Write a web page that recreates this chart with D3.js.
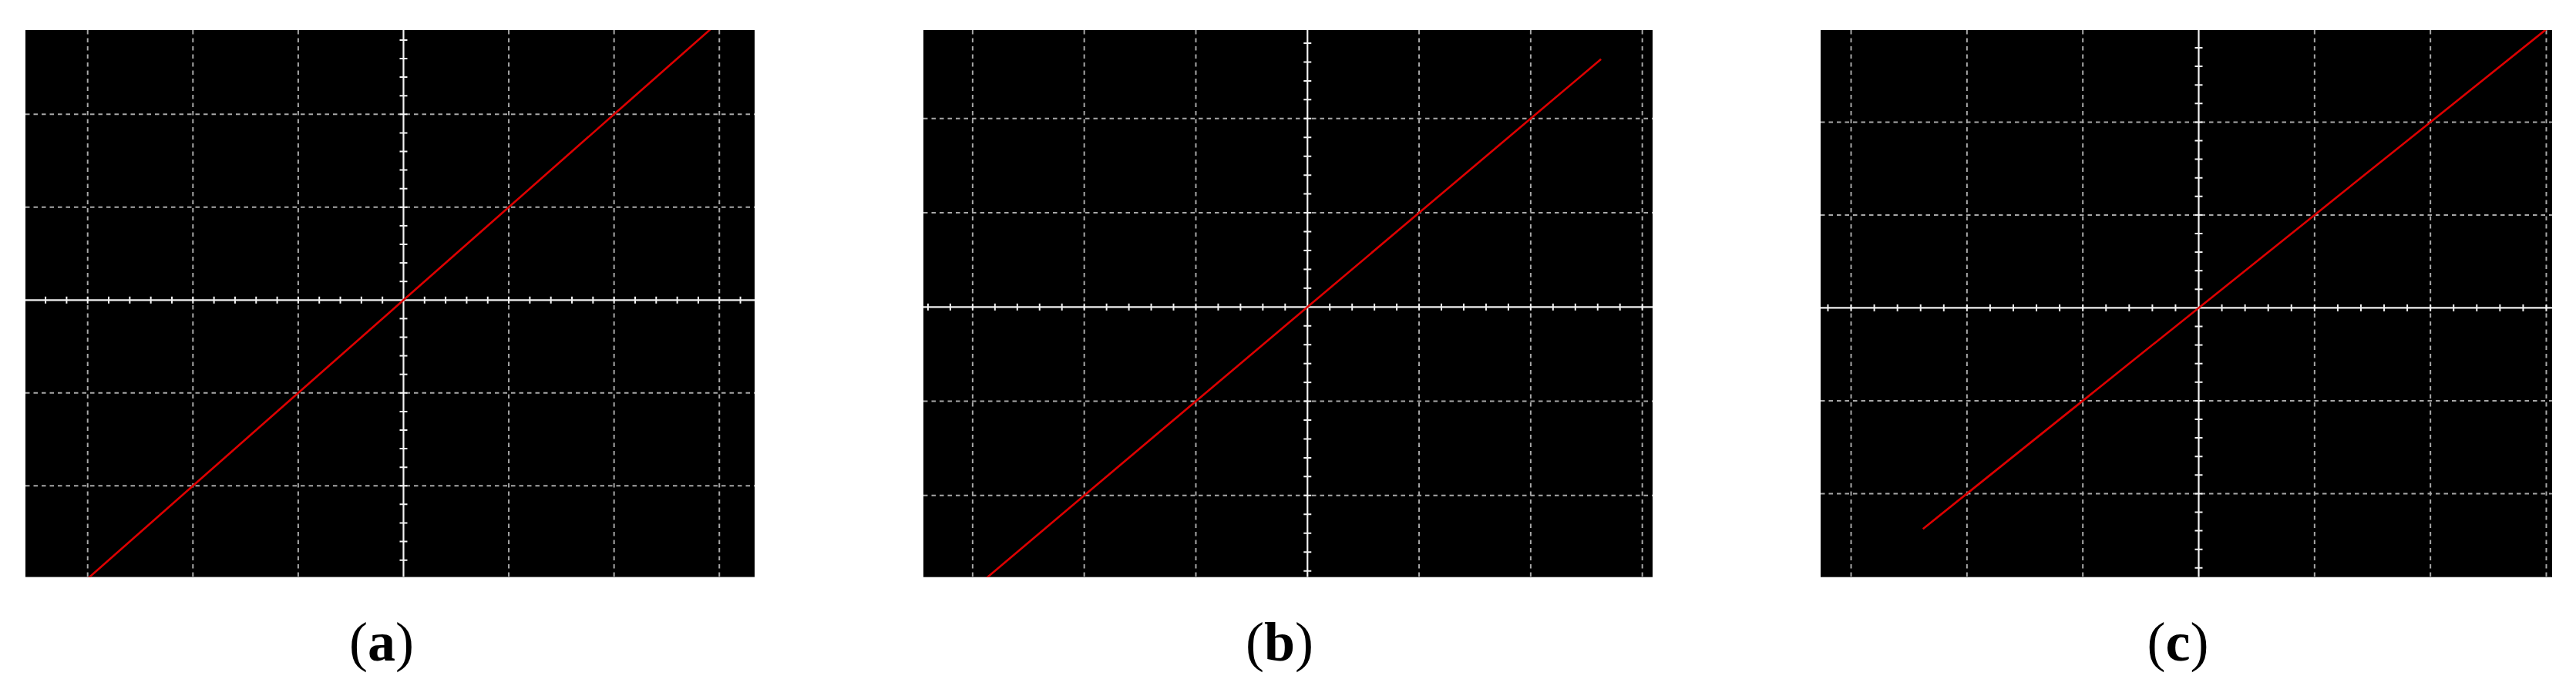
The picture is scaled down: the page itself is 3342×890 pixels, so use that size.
<!DOCTYPE html>
<html>
<head>
<meta charset="utf-8">
<script src="https://cdn.jsdelivr.net/npm/d3@7"></script>
<style>
  html, body { margin: 0; padding: 0; background: #ffffff; }
  svg { display: block; }
</style>
</head>
<body>
<script>
// ---- DATA (oscilloscope X-Y traces, in screen divisions) ----
const panelLabels = ["a", "b", "c"];
const majorTicks = [-3, -2, -1, 1, 2, 3];
const minorStep = 0.2;               // 5 minor marks per division

const traceA_x = [-3.0, -2.0, -1.0, 0.0, 1.0, 2.0, 3.0];
const traceA_y = [-3.0, -2.0, -1.0, 0.0, 1.0, 2.0, 3.0];

const traceB_x = [-2.9, -2.0, -1.0, 0.0, 1.0, 2.0, 2.63];
const traceB_y = [-2.9, -2.0, -1.0, 0.0, 1.0, 2.0, 2.63];

const traceC_x = [-2.38, -2.0, -1.0, 0.0, 1.0, 2.0, 3.0];
const traceC_y = [-2.38, -2.0, -1.0, 0.0, 1.0, 2.0, 3.0];

// visible screen window of each panel (divisions)
const xDomains = [[-3.591, 3.335], [-3.441, 3.092], [-3.263, 3.05]];
const yDomains = [[-2.982, 2.907], [-2.866, 2.939], [-2.899, 2.991]];

// ---- LAYOUT ----
const W = 3342, H = 890;
const boxes = [
  { left: 33,   top: 39, width: 946, height: 709.6 },
  { left: 1198, top: 39, width: 946, height: 709.7 },
  { left: 2362, top: 39, width: 949, height: 709.7 }
];
const traces = [
  { xs: traceA_x, ys: traceA_y },
  { xs: traceB_x, ys: traceB_y },
  { xs: traceC_x, ys: traceC_y }
];

const svg = d3.select("body").append("svg")
  .attr("width", W).attr("height", H)
  .attr("viewBox", `0 0 ${W} ${H}`);
svg.append("rect").attr("width", W).attr("height", H).attr("fill", "#ffffff");

boxes.forEach((b, i) => {
  const x = d3.scaleLinear().domain(xDomains[i]).range([b.left, b.left + b.width]);
  const y = d3.scaleLinear().domain(yDomains[i]).range([b.top + b.height, b.top]);
  const g = svg.append("g");
  const clipId = "clip" + i;
  svg.append("defs").append("clipPath").attr("id", clipId)
    .append("rect").attr("x", b.left).attr("y", b.top)
    .attr("width", b.width).attr("height", b.height);

  g.append("rect").attr("x", b.left).attr("y", b.top)
    .attr("width", b.width).attr("height", b.height).attr("fill", "#000000");

  const inner = g.append("g").attr("clip-path", `url(#${clipId})`);

  // dashed grid
  const xMaj = majorTicks.filter(v => v >= xDomains[i][0] && v <= xDomains[i][1]);
  const yMaj = majorTicks.filter(v => v >= yDomains[i][0] && v <= yDomains[i][1]);
  inner.selectAll(".vg").data(xMaj).join("line")
    .attr("x1", d => x(d)).attr("x2", d => x(d))
    .attr("y1", b.top).attr("y2", b.top + b.height)
    .attr("stroke", "#a8a8a8").attr("stroke-width", 2)
    .attr("stroke-dasharray", "5.5,5");
  inner.selectAll(".hg").data(yMaj).join("line")
    .attr("y1", d => y(d)).attr("y2", d => y(d))
    .attr("x1", b.left).attr("x2", b.left + b.width)
    .attr("stroke", "#a8a8a8").attr("stroke-width", 2)
    .attr("stroke-dasharray", "5.5,5");

  // centre axes
  inner.append("line").attr("x1", b.left).attr("x2", b.left + b.width)
    .attr("y1", y(0)).attr("y2", y(0)).attr("stroke", "#f2f2f2").attr("stroke-width", 2.2);
  inner.append("line").attr("y1", b.top).attr("y2", b.top + b.height)
    .attr("x1", x(0)).attr("x2", x(0)).attr("stroke", "#f2f2f2").attr("stroke-width", 2.2);

  // minor tick marks on the centre axes
  const xMinor = d3.range(Math.ceil(xDomains[i][0] / minorStep), Math.floor(xDomains[i][1] / minorStep) + 1)
    .filter(k => k !== 0).map(k => k * minorStep);
  const yMinor = d3.range(Math.ceil(yDomains[i][0] / minorStep), Math.floor(yDomains[i][1] / minorStep) + 1)
    .filter(k => k !== 0).map(k => k * minorStep);
  inner.selectAll(".xt").data(xMinor).join("line")
    .attr("x1", d => x(d)).attr("x2", d => x(d))
    .attr("y1", y(0) - 4.5).attr("y2", y(0) + 4.5)
    .attr("stroke", "#f2f2f2").attr("stroke-width", 2);
  inner.selectAll(".yt").data(yMinor).join("line")
    .attr("y1", d => y(d)).attr("y2", d => y(d))
    .attr("x1", x(0) - 5).attr("x2", x(0) + 5)
    .attr("stroke", "#f2f2f2").attr("stroke-width", 2);

  // trace
  const pts = traces[i].xs.map((v, j) => [v, traces[i].ys[j]]);
  inner.append("path").datum(pts)
    .attr("d", d3.line().x(d => x(d[0])).y(d => y(d[1])))
    .attr("fill", "none").attr("stroke", "#dd0000").attr("stroke-width", 2.6);

  // panel label
  const t = svg.append("text")
    .attr("x", b.left + b.width / 2 - 11).attr("y", 857)
    .attr("text-anchor", "middle")
    .attr("font-family", "'Liberation Serif', 'DejaVu Serif', serif")
    .attr("font-size", 72).attr("fill", "#000");
  t.append("tspan").text("(");
  t.append("tspan").attr("font-weight", "bold").text(panelLabels[i]);
  t.append("tspan").text(")");
});
</script>
</body>
</html>
